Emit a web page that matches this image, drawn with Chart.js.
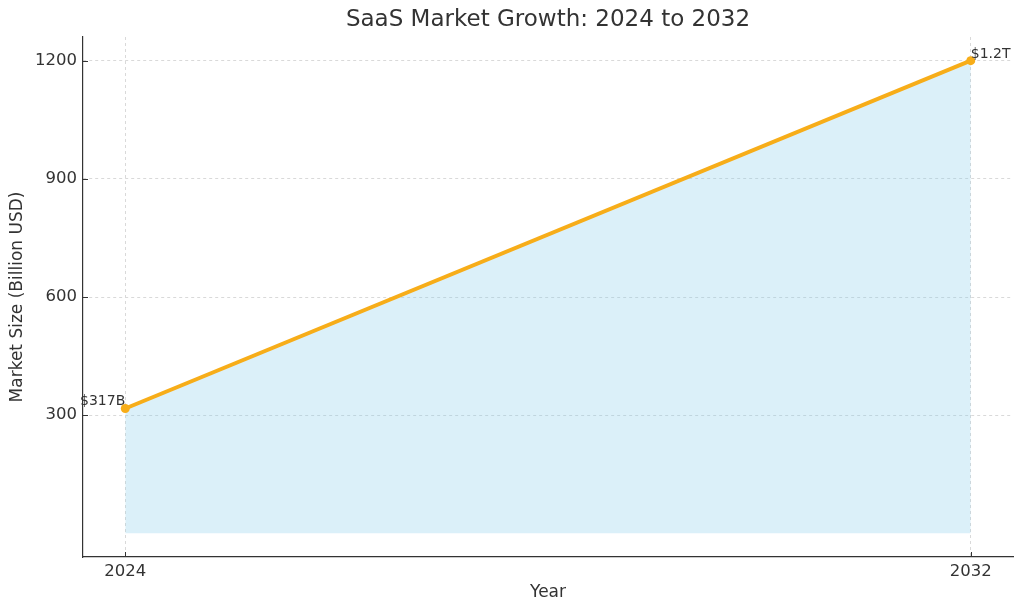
<!DOCTYPE html>
<html>
<head>
<meta charset="utf-8">
<script src="https://cdn.jsdelivr.net/npm/chart.js@4"></script>
<style>
  html, body { margin: 0; padding: 0; background: #ffffff; }
  #wrap { width: 1024px; height: 613px; }
</style>
</head>
<body>
<div id="wrap"><canvas id="saasChart" width="1024" height="613"></canvas></div>
<script>
// chart data
const years = [2024, 2032];
const marketSize = [317, 1200];
const pointLabels = ['$317B', '$1.2T'];
const yearTicks = [2024, 2032];
const sizeTicks = [300, 600, 900, 1200];
const chartTitle = 'SaaS Market Growth: 2024 to 2032';

const LINE_COLOR = '#f7ad19';
const TEXT_COLOR = '#333333';
Chart.defaults.font.family = "'DejaVu Sans', sans-serif";
Chart.defaults.color = TEXT_COLOR;

// title centred over the plot area, inward tick marks, and the "$317B" / "$1.2T" notes
const notePlugin = {
    id: 'notes',
    afterDatasetsDraw(chart) {
        const ctx = chart.ctx;
        const xs = chart.scales.x, ys = chart.scales.y;
        const area = chart.chartArea;
        ctx.save();

        ctx.font = "23px 'DejaVu Sans', sans-serif";
        ctx.fillStyle = TEXT_COLOR;
        ctx.textAlign = 'center';
        ctx.textBaseline = 'middle';
        ctx.fillText(chartTitle, (area.left + area.right) / 2, 20);

        ctx.strokeStyle = '#333333';
        ctx.lineWidth = 1;
        ctx.beginPath();
        yearTicks.forEach(v => {
            const px = Math.round(xs.getPixelForValue(v)) + 0.5;
            ctx.moveTo(px, area.bottom);
            ctx.lineTo(px, area.bottom - 5);
        });
        sizeTicks.forEach(v => {
            const py = Math.round(ys.getPixelForValue(v)) + 0.5;
            ctx.moveTo(area.left, py);
            ctx.lineTo(area.left + 5, py);
        });
        ctx.stroke();

        ctx.font = "14px 'DejaVu Sans', sans-serif";
        ctx.textBaseline = 'alphabetic';
        years.forEach((yr, i) => {
            const px = xs.getPixelForValue(yr);
            const py = ys.getPixelForValue(marketSize[i]);
            ctx.textAlign = i === 0 ? 'right' : 'left';
            ctx.fillText(pointLabels[i], px, py - 3);
        });
        ctx.restore();
    }
};

new Chart(document.getElementById('saasChart').getContext('2d'), {
    type: 'line',
    data: {
        datasets: [{
            data: years.map((y, i) => ({ x: y, y: marketSize[i] })),
            borderColor: LINE_COLOR,
            backgroundColor: 'rgba(135, 206, 235, 0.3)',
            borderWidth: 4,
            pointRadius: 4.5,
            pointBackgroundColor: LINE_COLOR,
            pointBorderWidth: 0,
            fill: 'origin',
            tension: 0
        }]
    },
    options: {
        responsive: false,
        animation: false,
        layout: { padding: { left: 0, right: 11, top: 37, bottom: 0 } },
        plugins: {
            legend: { display: false },
            tooltip: { enabled: false },
            title: { display: false }
        },
        scales: {
            x: {
                type: 'linear',
                min: 2023.6,
                max: 2032.4,
                afterBuildTicks: s => { s.ticks = yearTicks.map(v => ({ value: v })); },
                afterFit: s => { s.height = 56; },
                ticks: { callback: v => String(v), font: { size: 16.5 }, padding: 5, maxRotation: 0 },
                grid: { color: '#d9d9d9', drawTicks: false },
                border: { color: '#333333', width: 1.2, dash: [3, 3] },
                title: { display: true, text: 'Year', font: { size: 17 }, padding: { top: 4, bottom: 10 } }
            },
            y: {
                min: -60,
                max: 1260,
                afterBuildTicks: s => { s.ticks = sizeTicks.map(v => ({ value: v })); },
                afterFit: s => { s.width = 83; },
                ticks: { callback: v => String(v), font: { size: 16.5 }, padding: 6 },
                grid: { color: '#d9d9d9', drawTicks: false },
                border: { color: '#333333', width: 1.2, dash: [3, 3] },
                title: { display: true, text: 'Market Size (Billion USD)', font: { size: 17 }, padding: { top: 7, bottom: 0 } }
            }
        }
    },
    plugins: [notePlugin]
});
</script>
</body>
</html>
